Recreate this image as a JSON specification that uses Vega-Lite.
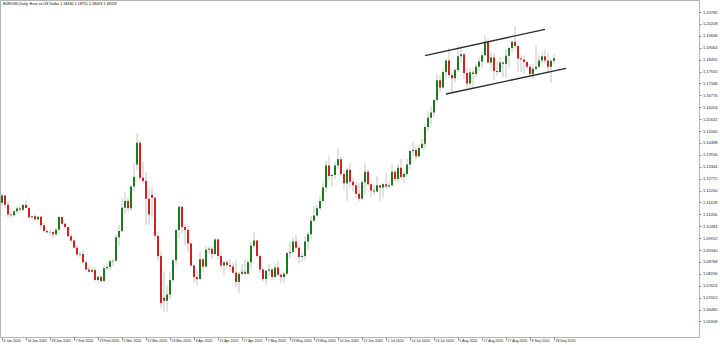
{
  "$schema": "https://vega.github.io/schema/vega-lite/v6.json",
  "width": 699,
  "height": 337,
  "autosize": {"type": "none"},
  "padding": {"left": 0, "top": 0, "right": 21, "bottom": 8},
  "background": "white",
  "title": {"text": "EURUSD,Daily:  Euro vs US Dollar  1.18440 1.18751 1.18263 1.18559", "anchor": "start", "frame": "group", "offset": -6, "dx": 3, "fontSize": 3.7, "font": "Liberation Sans", "fontWeight": "normal", "color": "#000000"},
  "config": {"view": {"stroke": "#b4b4b4", "strokeWidth": 1}, "axis": {"labelOverlap": false, "labelSeparation": 0}},
  "datasets": {
    "candles": [
      {"d":"2020-01-06","o":1.1160,"h":1.1205,"l":1.1148,"c":1.1196},
      {"d":"2020-01-07","o":1.1196,"h":1.1199,"l":1.1134,"c":1.1152},
      {"d":"2020-01-08","o":1.1152,"h":1.1167,"l":1.1091,"c":1.1105},
      {"d":"2020-01-09","o":1.1105,"h":1.1115,"l":1.1086,"c":1.1101},
      {"d":"2020-01-10","o":1.1101,"h":1.1126,"l":1.1093,"c":1.1121},
      {"d":"2020-01-13","o":1.1121,"h":1.1146,"l":1.1108,"c":1.1134},
      {"d":"2020-01-14","o":1.1134,"h":1.1148,"l":1.1116,"c":1.1128},
      {"d":"2020-01-15","o":1.1128,"h":1.1157,"l":1.1119,"c":1.1150},
      {"d":"2020-01-16","o":1.1150,"h":1.1173,"l":1.1135,"c":1.1136},
      {"d":"2020-01-17","o":1.1136,"h":1.1141,"l":1.1083,"c":1.1092},
      {"d":"2020-01-20","o":1.1092,"h":1.1100,"l":1.1085,"c":1.1096},
      {"d":"2020-01-21","o":1.1096,"h":1.1108,"l":1.1075,"c":1.1082},
      {"d":"2020-01-22","o":1.1082,"h":1.1097,"l":1.1077,"c":1.1094},
      {"d":"2020-01-23","o":1.1094,"h":1.1100,"l":1.1036,"c":1.1053},
      {"d":"2020-01-24","o":1.1053,"h":1.1065,"l":1.1019,"c":1.1025},
      {"d":"2020-01-27","o":1.1025,"h":1.1037,"l":1.1014,"c":1.1019},
      {"d":"2020-01-28","o":1.1019,"h":1.1030,"l":1.1004,"c":1.1021},
      {"d":"2020-01-29","o":1.1021,"h":1.1024,"l":1.0992,"c":1.1010},
      {"d":"2020-01-30","o":1.1010,"h":1.1041,"l":1.1002,"c":1.1032},
      {"d":"2020-01-31","o":1.1032,"h":1.1096,"l":1.1029,"c":1.1093},
      {"d":"2020-02-03","o":1.1093,"h":1.1096,"l":1.1056,"c":1.1061},
      {"d":"2020-02-04","o":1.1061,"h":1.1064,"l":1.1038,"c":1.1045},
      {"d":"2020-02-05","o":1.1045,"h":1.1047,"l":1.0995,"c":1.1000},
      {"d":"2020-02-06","o":1.1000,"h":1.1014,"l":1.0966,"c":1.0980},
      {"d":"2020-02-07","o":1.0980,"h":1.0985,"l":1.0941,"c":1.0945},
      {"d":"2020-02-10","o":1.0945,"h":1.0955,"l":1.0906,"c":1.0912},
      {"d":"2020-02-11","o":1.0912,"h":1.0928,"l":1.0899,"c":1.0915},
      {"d":"2020-02-12","o":1.0915,"h":1.0932,"l":1.0870,"c":1.0875},
      {"d":"2020-02-13","o":1.0875,"h":1.0888,"l":1.0835,"c":1.0840},
      {"d":"2020-02-14","o":1.0840,"h":1.0858,"l":1.0827,"c":1.0830},
      {"d":"2020-02-17","o":1.0830,"h":1.0851,"l":1.0823,"c":1.0838},
      {"d":"2020-02-18","o":1.0838,"h":1.0851,"l":1.0787,"c":1.0790},
      {"d":"2020-02-19","o":1.0790,"h":1.0811,"l":1.0778,"c":1.0806},
      {"d":"2020-02-20","o":1.0806,"h":1.0812,"l":1.0778,"c":1.0785},
      {"d":"2020-02-21","o":1.0785,"h":1.0862,"l":1.0779,"c":1.0846},
      {"d":"2020-02-24","o":1.0846,"h":1.0870,"l":1.0835,"c":1.0853},
      {"d":"2020-02-25","o":1.0853,"h":1.0890,"l":1.0835,"c":1.0880},
      {"d":"2020-02-26","o":1.0880,"h":1.0892,"l":1.0857,"c":1.0882},
      {"d":"2020-02-27","o":1.0882,"h":1.1006,"l":1.0876,"c":1.0995},
      {"d":"2020-02-28","o":1.0995,"h":1.1054,"l":1.0950,"c":1.1026},
      {"d":"2020-03-02","o":1.1026,"h":1.1185,"l":1.1020,"c":1.1137},
      {"d":"2020-03-03","o":1.1137,"h":1.1214,"l":1.1107,"c":1.1170},
      {"d":"2020-03-04","o":1.1170,"h":1.1187,"l":1.1113,"c":1.1135},
      {"d":"2020-03-05","o":1.1135,"h":1.1245,"l":1.1122,"c":1.1240},
      {"d":"2020-03-06","o":1.1240,"h":1.1355,"l":1.1215,"c":1.1285},
      {"d":"2020-03-09","o":1.1345,"h":1.1495,"l":1.1320,"c":1.1450},
      {"d":"2020-03-10","o":1.1450,"h":1.1464,"l":1.1270,"c":1.1282},
      {"d":"2020-03-11","o":1.1282,"h":1.1357,"l":1.1250,"c":1.1266},
      {"d":"2020-03-12","o":1.1266,"h":1.1310,"l":1.1055,"c":1.1180},
      {"d":"2020-03-13","o":1.1180,"h":1.1230,"l":1.1055,"c":1.1105},
      {"d":"2020-03-16","o":1.1200,"h":1.1237,"l":1.1090,"c":1.1185},
      {"d":"2020-03-17","o":1.1185,"h":1.1190,"l":1.0985,"c":1.1003},
      {"d":"2020-03-18","o":1.1003,"h":1.1025,"l":1.0880,"c":1.0905},
      {"d":"2020-03-19","o":1.0905,"h":1.0925,"l":1.0654,"c":1.0680},
      {"d":"2020-03-20","o":1.0705,"h":1.0832,"l":1.0636,"c":1.0690},
      {"d":"2020-03-23","o":1.0690,"h":1.0765,"l":1.0637,"c":1.0720},
      {"d":"2020-03-24","o":1.0720,"h":1.0830,"l":1.0700,"c":1.0790},
      {"d":"2020-03-25","o":1.0790,"h":1.0890,"l":1.0780,"c":1.0885},
      {"d":"2020-03-26","o":1.0885,"h":1.1035,"l":1.0860,"c":1.1030},
      {"d":"2020-03-27","o":1.1030,"h":1.1147,"l":1.0990,"c":1.1142},
      {"d":"2020-03-30","o":1.1142,"h":1.1147,"l":1.1014,"c":1.1045},
      {"d":"2020-03-31","o":1.1045,"h":1.1058,"l":1.0955,"c":1.1030},
      {"d":"2020-04-01","o":1.1030,"h":1.1048,"l":1.0925,"c":1.0965},
      {"d":"2020-04-02","o":1.0965,"h":1.0970,"l":1.0852,"c":1.0860},
      {"d":"2020-04-03","o":1.0860,"h":1.0865,"l":1.0778,"c":1.0805},
      {"d":"2020-04-06","o":1.0805,"h":1.0833,"l":1.0768,"c":1.0795},
      {"d":"2020-04-07","o":1.0795,"h":1.0927,"l":1.0792,"c":1.0890},
      {"d":"2020-04-08","o":1.0890,"h":1.0898,"l":1.0830,"c":1.0855},
      {"d":"2020-04-09","o":1.0855,"h":1.0952,"l":1.0850,"c":1.0935},
      {"d":"2020-04-10","o":1.0935,"h":1.0950,"l":1.0915,"c":1.0940},
      {"d":"2020-04-13","o":1.0940,"h":1.0952,"l":1.0890,"c":1.0915},
      {"d":"2020-04-14","o":1.0915,"h":1.0990,"l":1.0910,"c":1.0985},
      {"d":"2020-04-15","o":1.0985,"h":1.0990,"l":1.0890,"c":1.0905},
      {"d":"2020-04-16","o":1.0905,"h":1.0925,"l":1.0840,"c":1.0860},
      {"d":"2020-04-17","o":1.0860,"h":1.0884,"l":1.0813,"c":1.0875},
      {"d":"2020-04-20","o":1.0875,"h":1.0890,"l":1.0845,"c":1.0862},
      {"d":"2020-04-21","o":1.0862,"h":1.0888,"l":1.0838,"c":1.0855},
      {"d":"2020-04-22","o":1.0855,"h":1.0874,"l":1.0822,"c":1.0825},
      {"d":"2020-04-23","o":1.0825,"h":1.0887,"l":1.0757,"c":1.0780},
      {"d":"2020-04-24","o":1.0780,"h":1.0827,"l":1.0728,"c":1.0820},
      {"d":"2020-04-27","o":1.0820,"h":1.0868,"l":1.0810,"c":1.0830},
      {"d":"2020-04-28","o":1.0830,"h":1.0890,"l":1.0813,"c":1.0820},
      {"d":"2020-04-29","o":1.0820,"h":1.0888,"l":1.0815,"c":1.0875},
      {"d":"2020-04-30","o":1.0875,"h":1.0973,"l":1.0840,"c":1.0955},
      {"d":"2020-05-01","o":1.0955,"h":1.1019,"l":1.0937,"c":1.0980},
      {"d":"2020-05-04","o":1.0980,"h":1.0982,"l":1.0897,"c":1.0905},
      {"d":"2020-05-05","o":1.0905,"h":1.0912,"l":1.0825,"c":1.0840},
      {"d":"2020-05-06","o":1.0840,"h":1.0853,"l":1.0782,"c":1.0795},
      {"d":"2020-05-07","o":1.0795,"h":1.0842,"l":1.0766,"c":1.0835},
      {"d":"2020-05-08","o":1.0835,"h":1.0868,"l":1.0810,"c":1.0840},
      {"d":"2020-05-11","o":1.0840,"h":1.0849,"l":1.0790,"c":1.0805},
      {"d":"2020-05-12","o":1.0805,"h":1.0873,"l":1.0800,"c":1.0850},
      {"d":"2020-05-13","o":1.0850,"h":1.0884,"l":1.0806,"c":1.0815},
      {"d":"2020-05-14","o":1.0815,"h":1.0823,"l":1.0774,"c":1.0805},
      {"d":"2020-05-15","o":1.0805,"h":1.0831,"l":1.0775,"c":1.0820},
      {"d":"2020-05-18","o":1.0820,"h":1.0926,"l":1.0812,"c":1.0920},
      {"d":"2020-05-19","o":1.0920,"h":1.0976,"l":1.0895,"c":1.0925},
      {"d":"2020-05-20","o":1.0925,"h":1.0995,"l":1.0915,"c":1.0975},
      {"d":"2020-05-21","o":1.0975,"h":1.1009,"l":1.0935,"c":1.0945},
      {"d":"2020-05-22","o":1.0945,"h":1.0960,"l":1.0870,"c":1.0900},
      {"d":"2020-05-25","o":1.0900,"h":1.0920,"l":1.0875,"c":1.0905},
      {"d":"2020-05-26","o":1.0905,"h":1.0998,"l":1.0888,"c":1.0975},
      {"d":"2020-05-27","o":1.0975,"h":1.1020,"l":1.0935,"c":1.1010},
      {"d":"2020-05-28","o":1.1010,"h":1.1098,"l":1.0985,"c":1.1075},
      {"d":"2020-05-29","o":1.1075,"h":1.1146,"l":1.1070,"c":1.1100},
      {"d":"2020-06-01","o":1.1100,"h":1.1150,"l":1.1095,"c":1.1135},
      {"d":"2020-06-02","o":1.1135,"h":1.1195,"l":1.1125,"c":1.1170},
      {"d":"2020-06-03","o":1.1170,"h":1.1258,"l":1.1164,"c":1.1235},
      {"d":"2020-06-04","o":1.1235,"h":1.1362,"l":1.1212,"c":1.1340},
      {"d":"2020-06-05","o":1.1340,"h":1.1384,"l":1.1270,"c":1.1290},
      {"d":"2020-06-08","o":1.1290,"h":1.1300,"l":1.1240,"c":1.1295},
      {"d":"2020-06-09","o":1.1295,"h":1.1358,"l":1.1275,"c":1.1340},
      {"d":"2020-06-10","o":1.1340,"h":1.1422,"l":1.1325,"c":1.1370},
      {"d":"2020-06-11","o":1.1370,"h":1.1385,"l":1.1288,"c":1.1300},
      {"d":"2020-06-12","o":1.1300,"h":1.1316,"l":1.1222,"c":1.1255},
      {"d":"2020-06-15","o":1.1255,"h":1.1330,"l":1.1168,"c":1.1320},
      {"d":"2020-06-16","o":1.1320,"h":1.1352,"l":1.1230,"c":1.1262},
      {"d":"2020-06-17","o":1.1262,"h":1.1282,"l":1.1215,"c":1.1245},
      {"d":"2020-06-18","o":1.1245,"h":1.1260,"l":1.1187,"c":1.1205},
      {"d":"2020-06-19","o":1.1205,"h":1.1255,"l":1.1169,"c":1.1180},
      {"d":"2020-06-22","o":1.1180,"h":1.1272,"l":1.1175,"c":1.1260},
      {"d":"2020-06-23","o":1.1260,"h":1.1349,"l":1.1200,"c":1.1310},
      {"d":"2020-06-24","o":1.1310,"h":1.1322,"l":1.1245,"c":1.1250},
      {"d":"2020-06-25","o":1.1250,"h":1.1258,"l":1.1190,"c":1.1220},
      {"d":"2020-06-26","o":1.1220,"h":1.1248,"l":1.1197,"c":1.1215},
      {"d":"2020-06-29","o":1.1215,"h":1.1289,"l":1.1210,"c":1.1245},
      {"d":"2020-06-30","o":1.1245,"h":1.1248,"l":1.1168,"c":1.1235},
      {"d":"2020-07-01","o":1.1235,"h":1.1257,"l":1.1186,"c":1.1250},
      {"d":"2020-07-02","o":1.1250,"h":1.1302,"l":1.1230,"c":1.1240},
      {"d":"2020-07-03","o":1.1240,"h":1.1260,"l":1.1228,"c":1.1245},
      {"d":"2020-07-06","o":1.1245,"h":1.1345,"l":1.1238,"c":1.1310},
      {"d":"2020-07-07","o":1.1310,"h":1.1320,"l":1.1262,"c":1.1275},
      {"d":"2020-07-08","o":1.1275,"h":1.1345,"l":1.1262,"c":1.1330},
      {"d":"2020-07-09","o":1.1330,"h":1.1371,"l":1.1276,"c":1.1285},
      {"d":"2020-07-10","o":1.1285,"h":1.1310,"l":1.1255,"c":1.1300},
      {"d":"2020-07-13","o":1.1300,"h":1.1374,"l":1.1290,"c":1.1345},
      {"d":"2020-07-14","o":1.1345,"h":1.1415,"l":1.1320,"c":1.1410},
      {"d":"2020-07-15","o":1.1410,"h":1.1452,"l":1.1385,"c":1.1415},
      {"d":"2020-07-16","o":1.1415,"h":1.1425,"l":1.1370,"c":1.1385},
      {"d":"2020-07-17","o":1.1385,"h":1.1440,"l":1.1380,"c":1.1425},
      {"d":"2020-07-20","o":1.1425,"h":1.1468,"l":1.1415,"c":1.1445},
      {"d":"2020-07-21","o":1.1445,"h":1.1540,"l":1.1420,"c":1.1525},
      {"d":"2020-07-22","o":1.1525,"h":1.1601,"l":1.1505,"c":1.1570},
      {"d":"2020-07-23","o":1.1570,"h":1.1625,"l":1.1540,"c":1.1595},
      {"d":"2020-07-24","o":1.1595,"h":1.1659,"l":1.1575,"c":1.1655},
      {"d":"2020-07-27","o":1.1655,"h":1.1781,"l":1.1645,"c":1.1750},
      {"d":"2020-07-28","o":1.1750,"h":1.1775,"l":1.1690,"c":1.1715},
      {"d":"2020-07-29","o":1.1715,"h":1.1805,"l":1.1710,"c":1.1790},
      {"d":"2020-07-30","o":1.1790,"h":1.1855,"l":1.1755,"c":1.1845},
      {"d":"2020-07-31","o":1.1845,"h":1.1908,"l":1.1760,"c":1.1775},
      {"d":"2020-08-03","o":1.1775,"h":1.1788,"l":1.1695,"c":1.1760},
      {"d":"2020-08-04","o":1.1760,"h":1.1810,"l":1.1740,"c":1.1800},
      {"d":"2020-08-05","o":1.1800,"h":1.1916,"l":1.1790,"c":1.1865},
      {"d":"2020-08-06","o":1.1865,"h":1.1917,"l":1.1833,"c":1.1875},
      {"d":"2020-08-07","o":1.1875,"h":1.1884,"l":1.1755,"c":1.1785},
      {"d":"2020-08-10","o":1.1785,"h":1.1807,"l":1.1712,"c":1.1735},
      {"d":"2020-08-11","o":1.1735,"h":1.1808,"l":1.1710,"c":1.1788},
      {"d":"2020-08-12","o":1.1788,"h":1.1800,"l":1.1712,"c":1.1780},
      {"d":"2020-08-13","o":1.1780,"h":1.1830,"l":1.1765,"c":1.1815},
      {"d":"2020-08-14","o":1.1815,"h":1.1857,"l":1.1795,"c":1.1840},
      {"d":"2020-08-17","o":1.1840,"h":1.1885,"l":1.1810,"c":1.1870},
      {"d":"2020-08-18","o":1.1870,"h":1.1966,"l":1.1865,"c":1.1935},
      {"d":"2020-08-19","o":1.1935,"h":1.1951,"l":1.1830,"c":1.1835},
      {"d":"2020-08-20","o":1.1835,"h":1.1882,"l":1.1802,"c":1.1860},
      {"d":"2020-08-21","o":1.1860,"h":1.1880,"l":1.1753,"c":1.1795},
      {"d":"2020-08-24","o":1.1795,"h":1.1842,"l":1.1775,"c":1.1790},
      {"d":"2020-08-25","o":1.1790,"h":1.1863,"l":1.1786,"c":1.1835},
      {"d":"2020-08-26","o":1.1835,"h":1.1841,"l":1.1766,"c":1.1830},
      {"d":"2020-08-27","o":1.1830,"h":1.1900,"l":1.1762,"c":1.1868},
      {"d":"2020-08-28","o":1.1868,"h":1.1910,"l":1.1814,"c":1.1905},
      {"d":"2020-08-31","o":1.1905,"h":1.1940,"l":1.1885,"c":1.1935},
      {"d":"2020-09-01","o":1.1935,"h":1.2011,"l":1.1900,"c":1.1915},
      {"d":"2020-09-02","o":1.1915,"h":1.1923,"l":1.1790,"c":1.1855},
      {"d":"2020-09-03","o":1.1855,"h":1.1870,"l":1.1790,"c":1.1850},
      {"d":"2020-09-04","o":1.1850,"h":1.1870,"l":1.1780,"c":1.1838},
      {"d":"2020-09-07","o":1.1838,"h":1.1843,"l":1.1805,"c":1.1815},
      {"d":"2020-09-08","o":1.1815,"h":1.1829,"l":1.1765,"c":1.1780},
      {"d":"2020-09-09","o":1.1780,"h":1.1830,"l":1.1755,"c":1.1805},
      {"d":"2020-09-10","o":1.1805,"h":1.1917,"l":1.1795,"c":1.1815},
      {"d":"2020-09-11","o":1.1815,"h":1.1872,"l":1.1810,"c":1.1845},
      {"d":"2020-09-14","o":1.1845,"h":1.1885,"l":1.1830,"c":1.1865},
      {"d":"2020-09-15","o":1.1865,"h":1.1901,"l":1.1830,"c":1.1845},
      {"d":"2020-09-16","o":1.1845,"h":1.1882,"l":1.1785,"c":1.1815},
      {"d":"2020-09-17","o":1.1815,"h":1.1850,"l":1.1737,"c":1.1844},
      {"d":"2020-09-18","o":1.1844,"h":1.1875,"l":1.1826,"c":1.1856}
    ],
    "channel": [
      {"d":"2020-07-21","p":1.18682,"d2":"2020-09-15","p2":1.19951},
      {"d":"2020-07-30","p":1.16841,"d2":"2020-09-24","p2":1.18076}
    ]
  },
  "layer": [
    {
      "data": {"name": "candles"},
      "mark": {"type": "rule", "color": "#c4c4c4", "strokeWidth": 1},
      "encoding": {
        "x": {
          "field": "d", "type": "ordinal", "title": null,
          "scale": {
            "type": "point", "padding": 0.5, "range": [0.5, 570.5],
            "domain": ["2020-01-06","2020-01-07","2020-01-08","2020-01-09","2020-01-10","2020-01-13","2020-01-14","2020-01-15","2020-01-16","2020-01-17","2020-01-20","2020-01-21","2020-01-22","2020-01-23","2020-01-24","2020-01-27","2020-01-28","2020-01-29","2020-01-30","2020-01-31","2020-02-03","2020-02-04","2020-02-05","2020-02-06","2020-02-07","2020-02-10","2020-02-11","2020-02-12","2020-02-13","2020-02-14","2020-02-17","2020-02-18","2020-02-19","2020-02-20","2020-02-21","2020-02-24","2020-02-25","2020-02-26","2020-02-27","2020-02-28","2020-03-02","2020-03-03","2020-03-04","2020-03-05","2020-03-06","2020-03-09","2020-03-10","2020-03-11","2020-03-12","2020-03-13","2020-03-16","2020-03-17","2020-03-18","2020-03-19","2020-03-20","2020-03-23","2020-03-24","2020-03-25","2020-03-26","2020-03-27","2020-03-30","2020-03-31","2020-04-01","2020-04-02","2020-04-03","2020-04-06","2020-04-07","2020-04-08","2020-04-09","2020-04-10","2020-04-13","2020-04-14","2020-04-15","2020-04-16","2020-04-17","2020-04-20","2020-04-21","2020-04-22","2020-04-23","2020-04-24","2020-04-27","2020-04-28","2020-04-29","2020-04-30","2020-05-01","2020-05-04","2020-05-05","2020-05-06","2020-05-07","2020-05-08","2020-05-11","2020-05-12","2020-05-13","2020-05-14","2020-05-15","2020-05-18","2020-05-19","2020-05-20","2020-05-21","2020-05-22","2020-05-25","2020-05-26","2020-05-27","2020-05-28","2020-05-29","2020-06-01","2020-06-02","2020-06-03","2020-06-04","2020-06-05","2020-06-08","2020-06-09","2020-06-10","2020-06-11","2020-06-12","2020-06-15","2020-06-16","2020-06-17","2020-06-18","2020-06-19","2020-06-22","2020-06-23","2020-06-24","2020-06-25","2020-06-26","2020-06-29","2020-06-30","2020-07-01","2020-07-02","2020-07-03","2020-07-06","2020-07-07","2020-07-08","2020-07-09","2020-07-10","2020-07-13","2020-07-14","2020-07-15","2020-07-16","2020-07-17","2020-07-20","2020-07-21","2020-07-22","2020-07-23","2020-07-24","2020-07-27","2020-07-28","2020-07-29","2020-07-30","2020-07-31","2020-08-03","2020-08-04","2020-08-05","2020-08-06","2020-08-07","2020-08-10","2020-08-11","2020-08-12","2020-08-13","2020-08-14","2020-08-17","2020-08-18","2020-08-19","2020-08-20","2020-08-21","2020-08-24","2020-08-25","2020-08-26","2020-08-27","2020-08-28","2020-08-31","2020-09-01","2020-09-02","2020-09-03","2020-09-04","2020-09-07","2020-09-08","2020-09-09","2020-09-10","2020-09-11","2020-09-14","2020-09-15","2020-09-16","2020-09-17","2020-09-18","2020-09-21","2020-09-22","2020-09-23","2020-09-24","2020-09-25"]
          },
          "axis": {
            "orient": "bottom",
            "values": ["2020-01-06","2020-01-16","2020-01-28","2020-02-07","2020-02-19","2020-03-02","2020-03-12","2020-03-24","2020-04-03","2020-04-15","2020-04-27","2020-05-07","2020-05-19","2020-05-29","2020-06-10","2020-06-22","2020-07-02","2020-07-14","2020-07-24","2020-08-05","2020-08-17","2020-08-27","2020-09-08","2020-09-18"],
            "labelExpr": "utcFormat(toDate(datum.value), '%-d %b %Y')",
            "labelAlign": "left",
            "labelAngle": 0,
            "labelOffset": 1,
            "labelPadding": -2,
            "labelBaseline": "top",
            "tickSize": 3,
            "tickColor": "#8c8c8c",
            "labelFontSize": 3.5,
            "labelFont": "Liberation Sans",
            "labelColor": "#222222",
            "labelOverlap": false,
            "labelBound": false,
            "labelFlush": false,
            "domain": false,
            "grid": false
          }
        },
        "y": {
          "field": "l", "type": "quantitative", "title": null,
          "scale": {"domain": [1.0516, 1.2136], "nice": false, "zero": false},
          "axis": {
            "orient": "right",
            "values": [1.20780,1.20208,1.19636,1.19064,1.18492,1.17920,1.17348,1.16776,1.16204,1.15632,1.15060,1.14488,1.13916,1.13344,1.12772,1.12200,1.11628,1.11056,1.10484,1.09912,1.09340,1.08768,1.08196,1.07624,1.07052,1.06480,1.05908],
            "tickCount": 60,
            "format": ".5f",
            "tickSize": 2,
            "tickColor": "#8c8c8c",
            "labelPadding": 1.5,
            "labelFontSize": 4,
            "labelFont": "Liberation Sans",
            "labelColor": "#222222",
            "labelOverlap": false,
            "labelBound": false,
            "labelFlush": false,
            "domain": false,
            "grid": false
          }
        },
        "y2": {"field": "h"}
      }
    },
    {
      "data": {"name": "candles"},
      "mark": {"type": "rule", "strokeWidth": 2, "strokeCap": "butt"},
      "encoding": {
        "x": {"field": "d", "type": "ordinal", "title": null},
        "y": {"field": "o", "type": "quantitative", "title": null},
        "y2": {"field": "c"},
        "color": {"condition": {"test": "datum.c >= datum.o", "value": "#1b7a1b"}, "value": "#d21f1f"}
      }
    },
    {
      "data": {"name": "channel"},
      "mark": {"type": "rule", "color": "#2a2a2a", "strokeWidth": 1.3},
      "encoding": {
        "x": {"field": "d", "type": "ordinal", "title": null},
        "x2": {"field": "d2"},
        "y": {"field": "p", "type": "quantitative", "title": null},
        "y2": {"field": "p2"}
      }
    }
  ]
}
